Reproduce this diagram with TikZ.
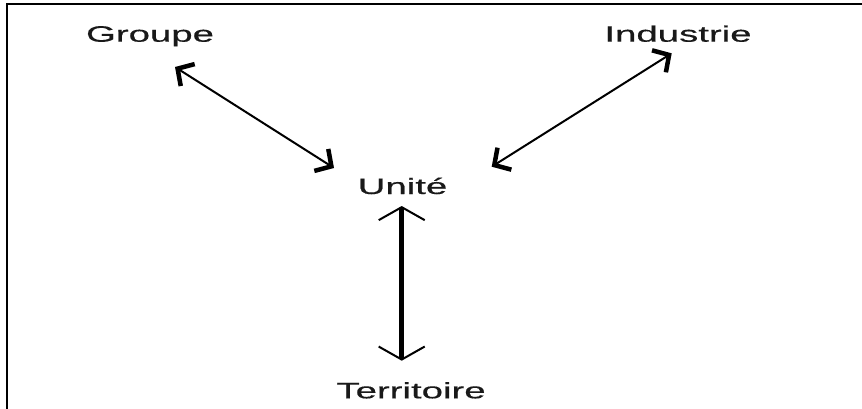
\documentclass[tikz,border=0pt]{standalone}
\usepackage{fontspec}
\setmainfont{Liberation Sans}
% slightly heavier face for the labels
\newfontface\labelface[FakeBold=0.4]{Liberation Sans}
\usetikzlibrary{arrows.meta}
% horizontally widened lettering
\newcommand\widetext[1]{\scalebox{1.72}[1]{#1}}
\tikzset{
  lbl/.style={anchor=base, inner sep=0pt, text=black!90, font=\labelface\fontsize{22.3}{26}\selectfont},
  link/.style={line width=2pt, {Straight Barb[length=12pt,width=26pt,line width=4.5pt]}-{Straight Barb[length=12pt,width=26pt,line width=4.5pt]}},
  axislink/.style={line width=5pt, {Straight Barb[length=13pt,width=46pt,line width=2pt]}-{Straight Barb[length=13pt,width=46pt,line width=2pt]}},
  frameline/.style={line width=2pt}
}
\begin{document}
\begin{tikzpicture}[x=1pt,y=-1pt]
\useasboundingbox (0,0) rectangle (862,409);
% open frame along top and left
\draw[frameline] (862,4) -- (7,4) -- (7,409);

% labels
\node[lbl] (groupe) at (150,41.7) {\widetext{Groupe}};
\node[lbl] (industrie) at (678,41.7) {\widetext{Industrie}};
\node[lbl] (unite) at (402.5,194) {\widetext{Unité}};
\node[lbl] (territoire) at (411,398.3) {\widetext{Territoire}};

% arrow end points around the labels
\coordinate (groupe-end) at (175,67);
\coordinate (unite-nw) at (334,168);
\coordinate (industrie-end) at (671.7,53.3);
\coordinate (unite-ne) at (491.7,166.7);
\coordinate (unite-s) at (401.7,206);
\coordinate (territoire-n) at (401.7,360.7);

% connectors
\draw[link] (groupe-end) -- (unite-nw);
\draw[link] (industrie-end) -- (unite-ne);
\draw[axislink] (unite-s) -- (territoire-n);
\end{tikzpicture}
\end{document}
